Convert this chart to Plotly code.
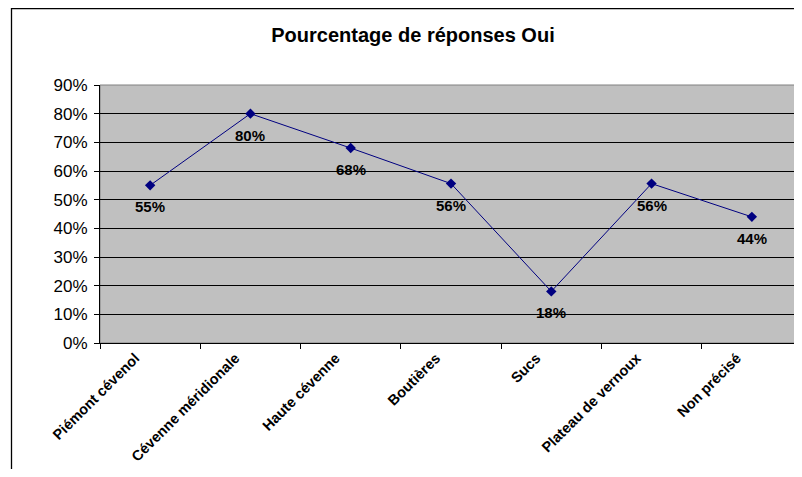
import plotly.graph_objects as go

categories = ["Piémont cévenol", "Cévenne méridionale", "Haute cévenne", "Boutières",
              "Sucs", "Plateau de vernoux", "Non précisé"]
values = [0.55, 0.80, 0.68, 0.556, 0.18, 0.556, 0.44]
labels = ["55%", "80%", "68%", "56%", "18%", "56%", "44%"]
title_text = "Pourcentage de réponses Oui"

FONT = "Arial, Liberation Sans, sans-serif"
W, H = 794, 461
L, R, T, B = 92, 0, 77, 126
pw, ph = W - L - R, H - T - B

fig = go.Figure()
fig.add_trace(go.Scatter(
    x=categories, y=values, mode="lines+markers",
    line=dict(color="#000080", width=1),
    marker=dict(symbol="diamond", size=8, color="#000080"),
    hoverinfo="skip", showlegend=False,
))

for c, v, t in zip(categories, values, labels):
    fig.add_annotation(x=c, y=v, text="<b>%s</b>" % t, showarrow=False,
                       yanchor="top", yshift=-11,
                       font=dict(family=FONT, size=15, color="black"))

# plot area border (gray)
fig.add_shape(type="rect", xref="paper", yref="paper", x0=0, x1=1, y0=0, y1=1,
              line=dict(color="#808080", width=1), layer="below")
# chart area border (black)
fig.add_shape(type="rect", xref="paper", yref="paper",
              x0=(3.5 - L) / pw, x1=1.05, y0=-0.7, y1=(T + ph - 0.7) / ph,
              line=dict(color="black", width=1.3), fillcolor="rgba(0,0,0,0)")

fig.update_layout(
    width=W, height=H,
    margin=dict(l=L, r=R, t=T, b=B, pad=0, autoexpand=False),
    paper_bgcolor="white", plot_bgcolor="#C0C0C0",
    font=dict(family=FONT, color="black"),
    title=dict(text="<b>%s</b>" % title_text, x=405 / W, xref="container", xanchor="center",
               y=1 - 27 / H, yref="container", yanchor="middle",
               font=dict(family=FONT, size=20, color="black")),
    xaxis=dict(type="category", range=[-0.5, 6.5], tickson="boundaries",
               ticks="outside", ticklen=5, tickcolor="black", tickwidth=1,
               showline=True, linecolor="black", linewidth=1,
               showgrid=False, tickangle=-45, ticklabelshift=-15,
               automargin=False,
               tickfont=dict(family=FONT, size=14.5, color="black"),
               tickprefix="<b>", ticksuffix="</b>", fixedrange=True),
    yaxis=dict(range=[0, 0.9], dtick=0.1, tick0=0, tickformat=".0%",
               ticks="outside", ticklen=5, tickcolor="black", tickwidth=1,
               showline=True, linecolor="black", linewidth=1,
               showgrid=True, gridcolor="black", gridwidth=1,
               zeroline=False, automargin=False, ticklabelstandoff=3,
               tickfont=dict(family=FONT, size=17, color="black"), fixedrange=True),
)

fig.write_html("out.html")
